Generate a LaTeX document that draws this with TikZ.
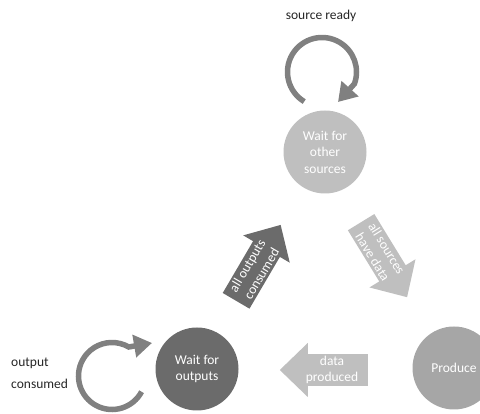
\documentclass[tikz,border=0pt]{standalone}
\usepackage{fontspec}
\setmainfont{Carlito}
\usetikzlibrary{arrows.meta}
\usetikzlibrary{shapes.arrows}
\usetikzlibrary{positioning}
\definecolor{lightfill}{HTML}{BFBFBF}
\definecolor{midfill}{HTML}{A6A6A6}
\definecolor{darkfill}{HTML}{6B6B6B}
\definecolor{loopgray}{HTML}{808080}
\definecolor{labeltext}{HTML}{262626}
\tikzset{>=latex}
\tikzstyle{state} = [circle, draw=none, minimum size=83pt, inner sep=0, align=center, text=white, font=\fontsize{13.5}{16.5}\selectfont]
\tikzstyle{blockarrow} = [single arrow, draw=none, minimum height=88pt, minimum width=54pt, single arrow head extend=10.5pt, single arrow tip angle=88, inner sep=1pt, align=center, text=white, font=\fontsize{13.5}{16.5}\selectfont]
\tikzstyle{selfloop} = [-{Triangle[length=18pt, width=22pt]}, line width=5.5pt, draw=loopgray]
\tikzstyle{looptext} = [draw=none, inner sep=0, text=labeltext, font=\fontsize{13.5}{22}\selectfont]

\begin{document}
\begin{tikzpicture}[x=1pt, y=1pt]
\clip (0,0) rectangle (480,414);
%\node [draw=none] at (240,207) {};
\node [state, fill=lightfill] (src) at (325, 262) {Wait for\\other\\sources};
\node [state, fill=darkfill] (out) at (197, 45) {Wait for\\outputs};
\node [state, fill=midfill] (prod) at (454, 46) {Produce};
\node [blockarrow, fill=lightfill, rotate=-58.5, anchor=tail] (havedata) at (361, 192) {all sources\\have data};
\node [blockarrow, fill=lightfill, shape border rotate=180, anchor=tail] (produced) at (368, 44) {data\\produced};
\node [blockarrow, fill=darkfill, rotate=59.6, anchor=tail] (consumed) at (236, 113) {all outputs\\consumed};
\coordinate (srcloop) at (322, 342);
\coordinate (srctip) at (338, 312);
\draw [selfloop] (srcloop) ++(239:34.5) arc [start angle=239, end angle=-20, radius=34.5] -- (srctip);
\coordinate (outloop) at (112, 38);
\coordinate (outtip) at (152, 71);
\draw [selfloop] (outloop) ++(-28:33.5) arc [start angle=-28, end angle=-300, radius=33.5] -- (outtip);
\node [looptext] (readylbl) at (321, 398) {source ready};
\node [looptext, anchor=west, align=left] (outlbl) at (11, 41) {output\\consumed};
\end{tikzpicture}
\end{document}
